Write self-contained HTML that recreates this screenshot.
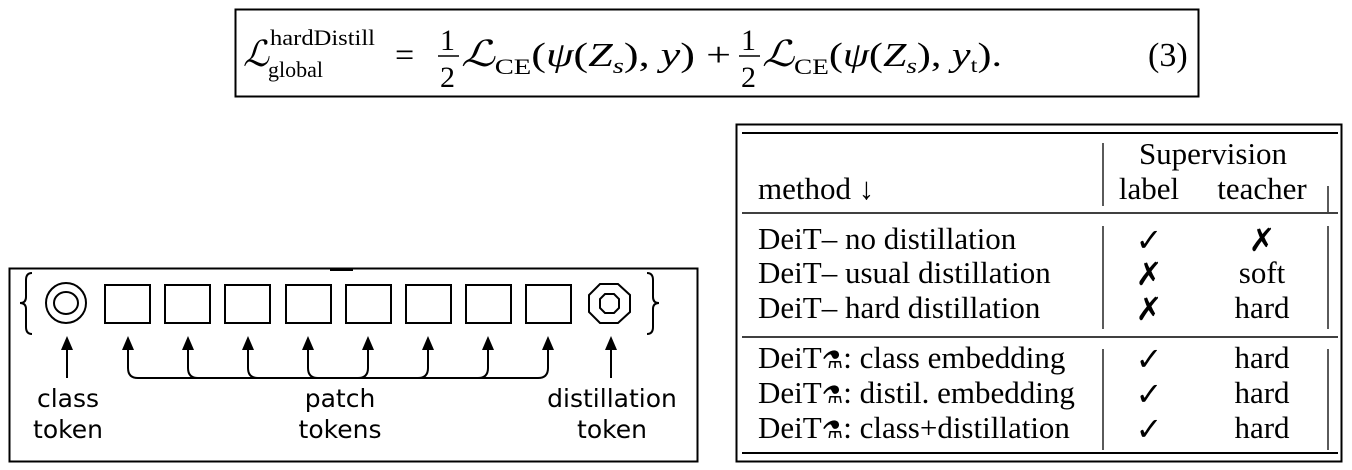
<!DOCTYPE html>
<html><head><meta charset="utf-8"><style>
html,body{margin:0;padding:0;background:#fff;width:1352px;height:470px;overflow:hidden}
svg{display:block}
.s{font-family:"Liberation Serif","DejaVu Serif",serif}
.a{font-family:"DejaVu Sans","Liberation Sans",sans-serif}
</style></head><body>
<svg width="1352" height="470" viewBox="0 0 1352 470" xmlns="http://www.w3.org/2000/svg">
<!-- formula -->
<rect x="235.5" y="9.5" width="963" height="87" fill="none" stroke="#000" stroke-width="2"/>
<g class="s" fill="#000">
<text x="243" y="66" font-size="36" font-style="italic">ℒ</text>
<text x="270" y="45" font-size="22" textLength="105" lengthAdjust="spacingAndGlyphs">hardDistill</text>
<text x="268" y="77" font-size="22">global</text>
<text x="395" y="66" font-size="34">=</text>
<text x="440" y="50" font-size="30">1</text>
<line x1="438" y1="56" x2="459" y2="56" stroke="#000" stroke-width="1.6"/>
<text x="440" y="87" font-size="30">2</text>
<text x="461" y="66" font-size="34" textLength="270" lengthAdjust="spacingAndGlyphs"><tspan font-style="italic" font-size="36">ℒ</tspan><tspan font-size="22" dy="8">CE</tspan><tspan dy="-8">(</tspan><tspan font-style="italic">ψ</tspan>(<tspan font-style="italic">Z</tspan><tspan font-size="22" font-style="italic" dy="7">s</tspan><tspan dy="-7">), </tspan><tspan font-style="italic">y</tspan>) +</text>
<text x="741" y="50" font-size="30">1</text>
<line x1="739" y1="56" x2="760" y2="56" stroke="#000" stroke-width="1.6"/>
<text x="741" y="87" font-size="30">2</text>
<text x="762" y="66" font-size="34" textLength="240" lengthAdjust="spacingAndGlyphs"><tspan font-style="italic" font-size="36">ℒ</tspan><tspan font-size="22" dy="8">CE</tspan><tspan dy="-8">(</tspan><tspan font-style="italic">ψ</tspan>(<tspan font-style="italic">Z</tspan><tspan font-size="22" font-style="italic" dy="7">s</tspan><tspan dy="-7">), </tspan><tspan font-style="italic">y</tspan><tspan font-size="20" dy="6">t</tspan><tspan dy="-6">).</tspan></text>
<text x="1148" y="66" font-size="34">(3)</text>
</g>

<!-- left diagram -->
<rect x="9.5" y="268.5" width="688" height="193" fill="none" stroke="#000" stroke-width="2"/>
<rect x="330" y="268" width="23" height="3" fill="#000"/>
<g fill="none" stroke="#000" stroke-width="2">
<path d="M32 273 Q26 273 26 280 L26 297 Q26 303 20 303 Q26 303 26 309 L26 327 Q26 334 32 334"/>
<path d="M647 273 Q653 273 653 280 L653 297 Q653 303 659 303 Q653 303 653 309 L653 327 Q653 334 647 334"/>
<circle cx="66" cy="303" r="20"/>
<ellipse cx="66" cy="303" rx="12" ry="11"/>
<rect x="105" y="285" width="45" height="38"/>
<rect x="165" y="285" width="45" height="38"/>
<rect x="225" y="285" width="45" height="38"/>
<rect x="286" y="285" width="45" height="38"/>
<rect x="346" y="285" width="45" height="38"/>
<rect x="406" y="285" width="45" height="38"/>
<rect x="466" y="285" width="45" height="38"/>
<rect x="526" y="285" width="45" height="38"/>
<polygon points="600,284 618,284 630,295 630,312 618,323 600,323 589,312 589,295"/>
<polygon points="605,294 614,294 619,299 619,308 614,313 605,313 600,308 600,299"/>
<line x1="67" y1="378" x2="67" y2="345"/>
<line x1="611" y1="378" x2="611" y2="345"/>
<path d="M128 345 L128 368 Q128 378 138 378 L538 378 Q548 378 548 368 L548 345"/>
<path d="M188 345 L188 368 Q188 378 198 378"/>
<path d="M248 345 L248 368 Q248 378 258 378"/>
<path d="M308 345 L308 368 Q308 378 318 378"/>
<path d="M368 345 L368 368 Q368 378 358 378"/>
<path d="M428 345 L428 368 Q428 378 418 378"/>
<path d="M488 345 L488 368 Q488 378 478 378"/>
</g>
<g fill="#000">
<polygon points="67,336 61,350 73,350"/>
<polygon points="611,336 605,350 617,350"/>
<polygon points="128,336 122,350 134,350"/>
<polygon points="188,336 182,350 194,350"/>
<polygon points="248,336 242,350 254,350"/>
<polygon points="308,336 302,350 314,350"/>
<polygon points="368,336 362,350 374,350"/>
<polygon points="428,336 422,350 434,350"/>
<polygon points="488,336 482,350 494,350"/>
<polygon points="548,336 542,350 554,350"/>
</g>
<g class="a" font-size="25" text-anchor="middle" fill="#000">
<text x="68" y="407">class</text>
<text x="68" y="438">token</text>
<text x="340" y="407">patch</text>
<text x="340" y="438">tokens</text>
<text x="612" y="407">distillation</text>
<text x="612" y="438">token</text>
</g>

<!-- table -->
<rect x="736.5" y="124.5" width="605" height="337" fill="none" stroke="#000" stroke-width="2"/>
<g stroke="#000">
<line x1="742" y1="133" x2="1338" y2="133" stroke-width="2"/>
<line x1="742" y1="213" x2="1338" y2="213" stroke-width="1.5"/>
<line x1="742" y1="337" x2="1338" y2="337" stroke-width="1.5"/>
<line x1="742" y1="453" x2="1338" y2="453" stroke-width="2"/>
<line x1="1103" y1="143" x2="1103" y2="206" stroke-width="1.3"/>
<line x1="1103" y1="226" x2="1103" y2="329" stroke-width="1.3"/>
<line x1="1103" y1="349" x2="1103" y2="450" stroke-width="1.3"/>
<line x1="1328" y1="186" x2="1328" y2="212" stroke-width="1.3"/>
<line x1="1328" y1="226" x2="1328" y2="329" stroke-width="1.3"/>
<line x1="1328" y1="349" x2="1328" y2="450" stroke-width="1.3"/>
</g>
<g class="s" font-size="31" fill="#000">
<text x="758" y="199">method ↓</text>
<text x="1213" y="164" text-anchor="middle">Supervision</text>
<text x="1149" y="199" text-anchor="middle">label</text>
<text x="1262" y="199" text-anchor="middle">teacher</text>
<text x="758" y="249">DeiT– no distillation</text>
<text x="758" y="283">DeiT– usual distillation</text>
<text x="758" y="318">DeiT– hard distillation</text>
<text x="758" y="368">DeiT<tspan font-family="DejaVu Sans" font-size="24">⚗</tspan>: class embedding</text>
<text x="758" y="403">DeiT<tspan font-family="DejaVu Sans" font-size="24">⚗</tspan>: distil. embedding</text>
<text x="758" y="438">DeiT<tspan font-family="DejaVu Sans" font-size="24">⚗</tspan>: class+distillation</text>
<g text-anchor="middle" font-family="DejaVu Sans" font-size="32" font-weight="bold">
<text x="1149" y="251">✓</text><text x="1262" y="251">✗</text>
<text x="1149" y="285">✗</text>
<text x="1149" y="320">✗</text>
<text x="1149" y="370">✓</text>
<text x="1149" y="405">✓</text>
<text x="1149" y="440">✓</text>
</g>
<g text-anchor="middle">
<text x="1262" y="283">soft</text>
<text x="1262" y="318">hard</text>
<text x="1262" y="368">hard</text>
<text x="1262" y="403">hard</text>
<text x="1262" y="438">hard</text>
</g>
</g>
</svg>
</body></html>
